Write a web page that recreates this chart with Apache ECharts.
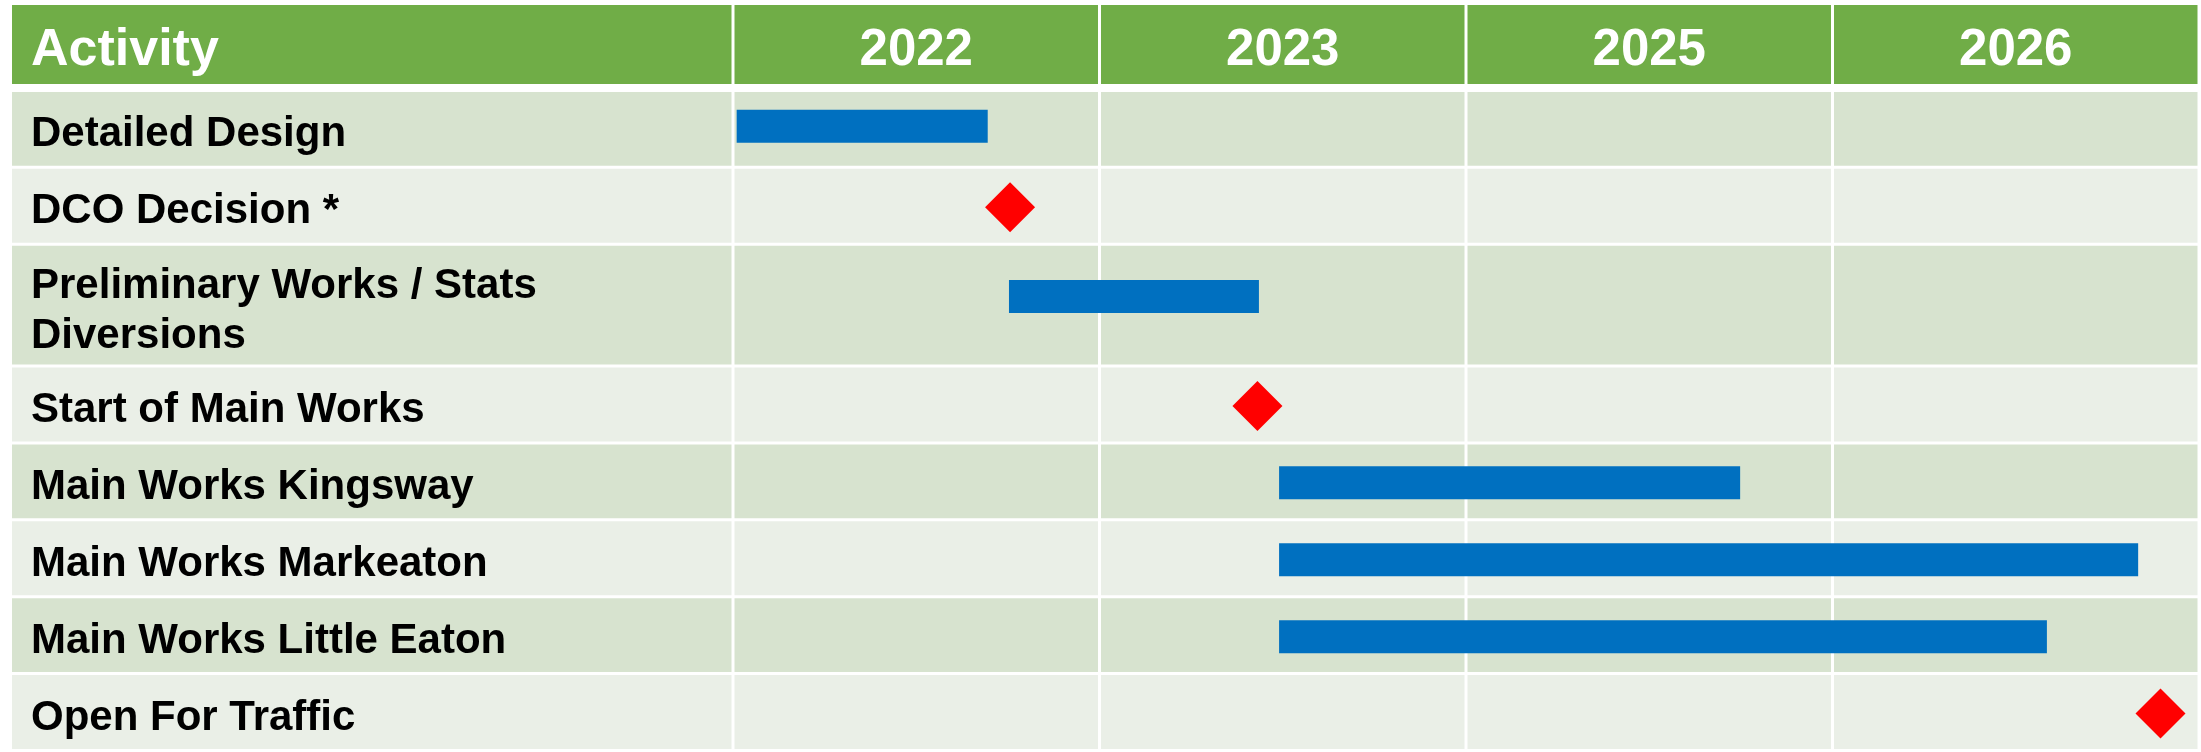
<!DOCTYPE html>
<html>
<head>
<meta charset="utf-8">
<script src="https://cdn.jsdelivr.net/npm/echarts@6/dist/echarts.min.js"></script>
<style>
  html, body { margin: 0; padding: 0; background: #fff; }
  #chart { width: 2201px; height: 752px; }
</style>
</head>
<body>
<div id="chart"></div>
<script>
// activities (rows) and timeline periods (columns)
const headerTitle = 'Activity';
const activities = [
  'Detailed Design',
  'DCO Decision *',
  'Preliminary Works / Stats\nDiversions',
  'Start of Main Works',
  'Main Works Kingsway',
  'Main Works Markeaton',
  'Main Works Little Eaton',
  'Open For Traffic'
];
const periods = ['2022', '2023', '2025', '2026'];

// bar start / end in period columns (0 = start of the 2022 column)
const taskStart = [0.01, null, 0.753, null, 1.49, 1.49, 1.49, null];
const taskEnd = [0.695, null, 1.435, null, 2.748, 3.834, 3.585, null];
// milestones (red diamonds)
const milestoneAt = [null, 0.756, null, 1.431, null, null, null, 3.895];

// ---- layout ----
const ROW_PX = 77;
const headerUnits = 87 / ROW_PX;
const rowUnits = activities.map(a => (a.split('\n').length > 1 ? 122 / ROW_PX : 1));
const rowTop = [];
let acc = headerUnits;
rowUnits.forEach(u => { rowTop.push(acc); acc += u; });
const yMax = acc;
// small vertical nudges of the bars (px), as drawn in the source slide
const barNudge = [-4, 0, -10, 0, 0, 0, 0, 0];

const GREEN = '#70AD47';
const BAND_DARK = '#D7E3CF';
const BAND_LIGHT = '#EAEFE7';
const LABEL_FONT = 'bold 42px "Liberation Sans", Arial, sans-serif';
const TITLE_FONT = 'bold 52px "Liberation Sans", Arial, sans-serif';
const YEAR_FONT = 'bold 51px "Liberation Sans", Arial, sans-serif';

// cells: [col, yStart, yEnd, rowIndex(-1 = header)]
function buildCells(nCols) {
  const out = [];
  for (let c = 0; c < nCols; c++) {
    out.push([c, 0, headerUnits, -1]);
    activities.forEach((a, i) => out.push([c, rowTop[i], rowTop[i] + rowUnits[i], i]));
  }
  return out;
}
const leftCells = buildCells(1);
const timeCells = buildCells(periods.length);

function cellRenderer(isLeft) {
  return function (params, api) {
    const col = api.value(0), y0 = api.value(1), y1 = api.value(2), row = api.value(3);
    const p0 = api.coord([col, y0]);
    const p1 = api.coord([col + 1, y1]);
    const gap = row < 0 ? 8 : 3;
    const xL = isLeft ? p0[0] : p0[0] + 1.5;
    const xR = p1[0] - 1.5;
    const yT = p0[1];
    const yB = p1[1] - gap;
    const fill = row < 0 ? GREEN : (row % 2 === 0 ? BAND_DARK : BAND_LIGHT);
    const children = [{
      type: 'rect',
      shape: { x: xL, y: yT, width: xR - xL, height: yB - yT },
      style: { fill: fill }
    }];
    let text = null;
    if (row < 0) text = isLeft ? headerTitle : periods[col];
    else if (isLeft) text = activities[row];
    if (text !== null) {
      const isHead = row < 0;
      const align = isLeft ? 'left' : 'center';
      children.push({
        type: 'text',
        x: isLeft ? xL + 19 : (xL + xR) / 2,
        y: (yT + yB) / 2 + 6,
        style: {
          text: text,
          fill: isHead ? '#fff' : '#000',
          font: isHead ? (isLeft ? TITLE_FONT : YEAR_FONT) : LABEL_FONT,
          lineHeight: 50,
          align: align, textAlign: align,
          verticalAlign: 'middle', textVerticalAlign: 'middle'
        }
      });
    }
    return { type: 'group', children: children };
  };
}

const barData = [];
activities.forEach((a, i) => {
  if (taskStart[i] !== null) barData.push([taskStart[i], taskEnd[i], rowTop[i] + rowUnits[i] / 2, barNudge[i]]);
});
const msData = [];
activities.forEach((a, i) => {
  if (milestoneAt[i] !== null) msData.push([milestoneAt[i], rowTop[i] + rowUnits[i] / 2]);
});

const chart = echarts.init(document.getElementById('chart'));
const option = {
  animation: false,
  backgroundColor: '#fff',
  grid: [
    { left: 12, width: 721, top: 5, height: ROW_PX * yMax },
    { left: 733, right: 2, top: 5, height: ROW_PX * yMax }
  ],
  xAxis: [
    { gridIndex: 0, type: 'value', min: 0, max: 1, show: false },
    { gridIndex: 1, type: 'value', min: 0, max: periods.length, interval: 1, show: false }
  ],
  yAxis: [
    { gridIndex: 0, type: 'value', min: 0, max: yMax, inverse: true, show: false },
    { gridIndex: 1, type: 'value', min: 0, max: yMax, inverse: true, show: false }
  ],
  series: [
    {
      type: 'custom', xAxisIndex: 0, yAxisIndex: 0, z: 1,
      renderItem: cellRenderer(true), data: leftCells, silent: true
    },
    {
      type: 'custom', xAxisIndex: 1, yAxisIndex: 1, z: 1,
      renderItem: cellRenderer(false), data: timeCells, silent: true
    },
    {
      type: 'custom', xAxisIndex: 1, yAxisIndex: 1, z: 2,
      renderItem: function (params, api) {
        const a = api.coord([api.value(0), api.value(2)]);
        const b = api.coord([api.value(1), api.value(2)]);
        const h = 33;
        const cy = a[1] + api.value(3);
        return {
          type: 'rect',
          shape: { x: a[0], y: cy - h / 2, width: b[0] - a[0], height: h },
          style: { fill: '#0070C0' }
        };
      },
      data: barData
    },
    {
      type: 'scatter', xAxisIndex: 1, yAxisIndex: 1, z: 3,
      symbol: 'diamond', symbolSize: [50, 50],
      itemStyle: { color: '#FF0000', opacity: 1 },
      data: msData
    }
  ]
};
chart.setOption(option);
</script>
</body>
</html>
